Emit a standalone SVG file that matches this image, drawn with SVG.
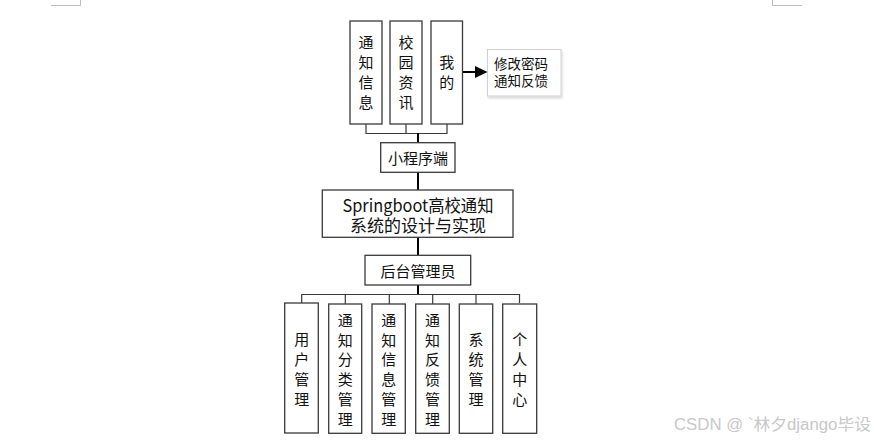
<svg xmlns="http://www.w3.org/2000/svg" width="874" height="442" viewBox="0 0 874 442">
<style>
.box{fill:#fff;stroke:#3a3a3a;stroke-width:1.3}
.t{font-family:"Microsoft YaHei","Noto Sans CJK SC",sans-serif;font-size:15px;fill:#111;text-anchor:middle;dominant-baseline:central}
.ln{fill:none;stroke:#3a3a3a;stroke-width:1.2}
.th{fill:none;stroke:#000;stroke-width:2}
.mark{fill:none;stroke:#bdbdbd;stroke-width:1}
</style>
<defs>
<filter id="sh" x="-10%" y="-10%" width="130%" height="140%">
<feDropShadow dx="1" dy="2" stdDeviation="1.2" flood-color="#000" flood-opacity="0.15"/>
</filter>
</defs>
<rect width="874" height="442" fill="#fff"/>
<path class="mark" d="M51 5.5H80.5V0M772.5 0V5.5H802"/>
<g id="connectors">
<path class="ln" d="M366 124V133.5H447V124M406 124V133.5"/>
<path class="th" d="M418 133V143M418 172V190M418 237V255M418 285V294.5"/>
<path class="ln" d="M301.7 303V294.5H519.5V303M345.3 294.5V304M389.3 294.5V304M432.7 294.5V304M476 294.5V304"/>
<path class="th" d="M462 72H476"/>
<polygon points="475,66 487.5,72 475,78" fill="#000"/>
</g>
<g id="n-tzxx"><rect class="box" x="350" y="21" width="32" height="103"/>
<text class="t" x="366" y="41.7">通</text><text class="t" x="366" y="61.7">知</text><text class="t" x="366" y="81.7">信</text><text class="t" x="366" y="101.7">息</text></g>
<g id="n-xyzx"><rect class="box" x="390" y="21" width="32" height="103"/>
<text class="t" x="406" y="41.7">校</text><text class="t" x="406" y="61.7">园</text><text class="t" x="406" y="81.7">资</text><text class="t" x="406" y="101.7">讯</text></g>
<g id="n-wd"><rect class="box" x="431" y="21" width="31.5" height="103"/>
<text class="t" x="446.7" y="61.7">我</text><text class="t" x="446.7" y="81.7">的</text></g>
<g id="n-xgmm"><rect x="487.5" y="49.5" width="73.5" height="46.5" fill="#fff" stroke="#cfcfcf" stroke-width="1" filter="url(#sh)"/>
<text class="t" style="font-size:13.5px;text-anchor:start" x="494" y="63.3">修改密码</text>
<text class="t" style="font-size:13.5px;text-anchor:start" x="494" y="80">通知反馈</text></g>
<g id="n-xcxd"><rect class="box" x="380.7" y="142.7" width="74.3" height="29.6"/>
<text class="t" x="418" y="157">小程序端</text></g>
<g id="n-sys"><rect class="box" x="322.3" y="190" width="190.7" height="47.3"/>
<text class="t" style="font-size:17px" x="418" y="204.3" textLength="151" lengthAdjust="spacingAndGlyphs">Springboot高校通知</text>
<text class="t" style="font-size:17px" x="418" y="224.3">系统的设计与实现</text></g>
<g id="n-htgly"><rect class="box" x="365" y="255.3" width="105.7" height="29.7"/>
<text class="t" x="418" y="270">后台管理员</text></g>
<g id="n-yhgl"><rect class="box" x="284.7" y="303" width="33.6" height="130"/>
<text class="t" x="301.7" y="338">用</text><text class="t" x="301.7" y="358">户</text><text class="t" x="301.7" y="378">管</text><text class="t" x="301.7" y="398">理</text></g>
<g id="n-tzfl"><rect class="box" x="328.7" y="304" width="33" height="129.3"/>
<text class="t" x="345.3" y="319">通</text><text class="t" x="345.3" y="339">知</text><text class="t" x="345.3" y="358.5">分</text><text class="t" x="345.3" y="378">类</text><text class="t" x="345.3" y="398">管</text><text class="t" x="345.3" y="418">理</text></g>
<g id="n-tzxxgl"><rect class="box" x="372" y="304" width="33.3" height="129.3"/>
<text class="t" x="388.7" y="319">通</text><text class="t" x="388.7" y="339">知</text><text class="t" x="388.7" y="358.5">信</text><text class="t" x="388.7" y="378">息</text><text class="t" x="388.7" y="398">管</text><text class="t" x="388.7" y="418">理</text></g>
<g id="n-tzfk"><rect class="box" x="415.7" y="304" width="33.6" height="129.3"/>
<text class="t" x="432.5" y="319">通</text><text class="t" x="432.5" y="339">知</text><text class="t" x="432.5" y="358.5">反</text><text class="t" x="432.5" y="378">馈</text><text class="t" x="432.5" y="398">管</text><text class="t" x="432.5" y="418">理</text></g>
<g id="n-xtgl"><rect class="box" x="459.3" y="304" width="33.4" height="129.3"/>
<text class="t" x="476" y="338">系</text><text class="t" x="476" y="358">统</text><text class="t" x="476" y="378">管</text><text class="t" x="476" y="398">理</text></g>
<g id="n-grzx"><rect class="box" x="502.7" y="304" width="34" height="129.3"/>
<text class="t" x="519.7" y="338">个</text><text class="t" x="519.7" y="358">人</text><text class="t" x="519.7" y="378">中</text><text class="t" x="519.7" y="398">心</text></g>
<text x="674" y="430" font-family="'Liberation Sans','Noto Sans CJK SC',sans-serif" font-size="16" fill="#c8c8c8" textLength="197" lengthAdjust="spacingAndGlyphs">CSDN @ `林夕django毕设</text>
</svg>
